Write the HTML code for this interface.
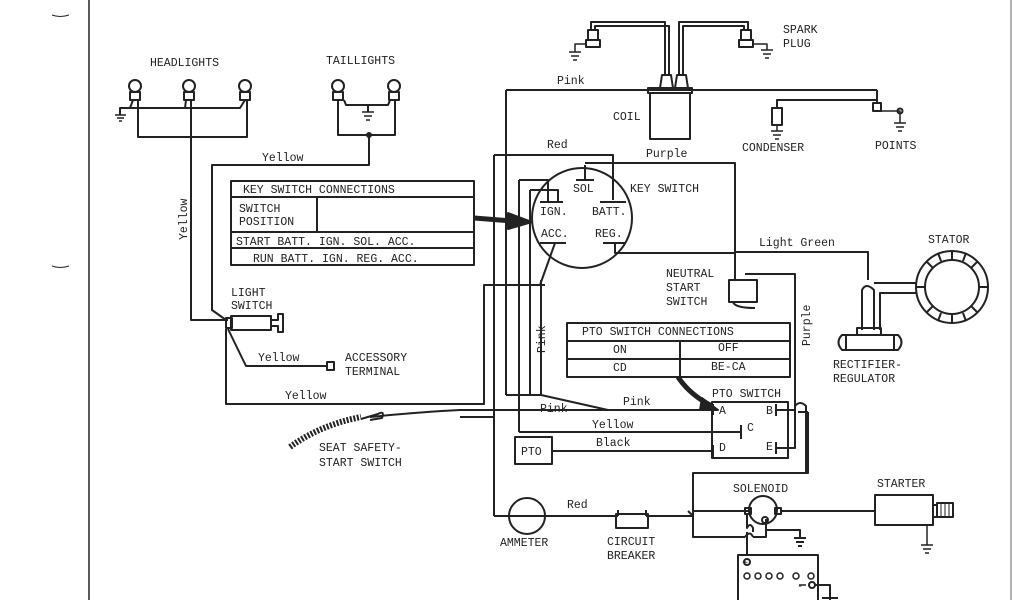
<!DOCTYPE html>
<html><head><meta charset="utf-8"><style>
html,body{margin:0;padding:0;background:#fff;}
svg{display:block;}
text{font-family:"Liberation Mono",monospace;font-size:11.5px;fill:#222;}
</style></head><body>
<svg width="1024" height="600" viewBox="0 0 1024 600" xmlns="http://www.w3.org/2000/svg">
<g fill="none" stroke="#222" stroke-width="2" stroke-linejoin="round">
<line x1="89" y1="0" x2="89" y2="600" stroke-width="1.5"/>
<line x1="1011" y1="0" x2="1011" y2="600" stroke="#999" stroke-width="1.5"/>
<path d="M52 15 q8 3 17 0 M52 266 q8 3 17 0" stroke-width="1"/>

<!-- Headlights -->
<circle cx="135" cy="86" r="6"/><rect x="130" y="92" width="10" height="8"/>
<circle cx="189" cy="86" r="6"/><rect x="184" y="92" width="10" height="8"/>
<circle cx="245" cy="86" r="6"/><rect x="240" y="92" width="10" height="8"/>
<path d="M120 115 V108 H240 L245 100 M133 100 L130 108 M186 100 L185 108"/>
<path d="M115 115 H126 M117 118 H124 M119 121 H122" stroke-width="1.5"/>
<path d="M138 100 V137 H247 V100"/>
<path d="M191 100 V320 H228"/>

<!-- Taillights -->
<circle cx="338" cy="86" r="6"/><rect x="333" y="92" width="10" height="8"/>
<circle cx="394" cy="86" r="6"/><rect x="389" y="92" width="10" height="8"/>
<path d="M344 100 L346 105 H388 L390 100 M368 105 V112"/>
<path d="M362 112 H374 M364 116 H372 M366 120 H370" stroke-width="1.5"/>
<path d="M338 100 V135 H395 V100 M369 135 V165 H212 V310 L226 320"/>
<circle cx="369" cy="135" r="2" fill="#222"/>

<!-- Light switch -->
<rect x="231" y="316" width="40" height="14"/>
<rect x="226" y="318" width="6" height="10"/>
<path d="M271 320 H278 V314 H283 V332 H278 V326 H271"/>
<path d="M228 329 L246 366 H327 M226 329 V404 H484 V285 H496"/>
<rect x="327" y="362" width="7" height="8"/>

<!-- Key switch table -->
<rect x="231" y="181" width="243" height="84"/>
<path d="M231 197 H474 M231 232 H474 M231 248 H474 M317 197 V232"/>
<path d="M474 218 L512 221" stroke-width="5"/>
<path d="M508 213 L532 222 L508 229 Z" fill="#222"/>

<!-- bundle -->
<path d="M494 155 V516"/>
<path d="M494 155 H613 V200"/>
<path d="M506 90 V395"/>
<path d="M506 90 H877"/>
<path d="M519 180 H548 V202 M530 190 H558 V202"/>
<path d="M519 180 V432 M530 190 V395 M541 280 V395"/>
<path d="M555 243 L540 285"/>
<path d="M484 285 H545"/>
<path d="M506 395 H541 L608 410 H713"/>
<path d="M370 417 Q420 412 460 410 H713 M460 417 H494"/>
<path d="M519 432 H741"/>
<path d="M552 451 H713"/>

<!-- key switch circle -->
<circle cx="582" cy="218" r="50"/>
<path d="M585 163 H735 V252 M585 165 V180 M576 180 H594"/>
<path d="M540 202 H563 M600 202 H626 M540 243 H566 M603 243 H626 M615 243 V253 H735"/>
<path d="M735 252 H868 V280 M735 252 V280"/>

<!-- Coil -->
<rect x="650" y="93" width="40" height="46"/>
<rect x="648" y="88" width="44" height="5"/>
<path d="M660 88 L662 75 H671 L673 88 M675 88 L677 75 H686 L688 88"/>
<path d="M665 75 V22 H591 V30 M669 75 V26 H595 V30"/>
<path d="M679 75 V22 H748 V30 M683 75 V26 H744 V30"/>
<rect x="588" y="30" width="10" height="10"/><rect x="586" y="40" width="14" height="7"/>
<rect x="741" y="30" width="10" height="10"/><rect x="739" y="40" width="14" height="7"/>
<path d="M586 44 H575 V52 M569 52 H581 M571 56 H579 M573 60 H577" stroke-width="1.5"/>
<path d="M753 44 H767 V50 M761 50 H773 M763 54 H771 M765 58 H769" stroke-width="1.5"/>

<!-- condenser & points -->
<path d="M777 108 V100 H877 M877 90 V102"/>
<rect x="772" y="108" width="10" height="17"/>
<path d="M777 125 V131 M771 131 H783 M773 135 H781 M775 139 H779" stroke-width="1.5"/>
<rect x="873" y="103" width="8" height="8"/>
<path d="M881 111 H900 V123 M894 123 H906 M896 127 H904 M898 131 H902" stroke-width="1.5"/>
<circle cx="900" cy="111" r="2.5"/>

<!-- Neutral start switch -->
<rect x="729" y="280" width="28" height="22"/>
<path d="M733 302 Q735 308 755 308 M745 274 H795 V406 Q800 400 806 406 V472"/>
<path d="M795 406 V448 H784 M795 410 H784"/>

<!-- Stator -->
<circle cx="952" cy="287" r="36"/>
<circle cx="952" cy="287" r="27"/>
<path d="M952 251 V260 M952 314 V323 M916 287 H925 M979 287 H988 M927 262 L933 268 M977 262 L971 268 M927 312 L933 306 M977 312 L971 306 M938 253 L941 261 M966 253 L963 261 M938 321 L941 313 M966 321 L963 313"/>
<path d="M862 330 V290 Q866 282 874 290 V330 M874 283 H916 M880 330 V293 H916"/>
<rect x="857" y="328" width="24" height="7"/>
<path d="M842 335 H898 Q905 342 898 350 H842 Q835 342 842 335 Z M846 335 V350 M894 335 V350"/>

<!-- PTO table -->
<rect x="567" y="323" width="223" height="54"/>
<path d="M567 341 H790 M567 359 H790 M680 341 V377"/>
<path d="M678 377 Q690 395 712 406" stroke-width="5"/>
<path d="M702 398 L718 410 L700 410 Z" fill="#222"/>

<!-- PTO switch -->
<rect x="712" y="402" width="76" height="56"/>
<path d="M713 404 V415 M741 425 V439 M713 445 V457 M776 404 V416 M776 442 V454 M776 410 H784 M776 448 H784"/>
<path d="M808 412 V473 H693 V537 H745 M693 511 H749 M808 412 H798"/>

<rect x="515" y="437" width="37" height="27"/>

<!-- Ammeter etc -->
<circle cx="527" cy="516" r="18"/>
<path d="M494 516 H618 M646 516 H693 L688 511"/>
<path d="M618 516 V510 M646 516 V510"/>
<rect x="616" y="514" width="32" height="14"/>

<!-- Solenoid -->
<circle cx="763" cy="510" r="14"/>
<rect x="745" y="508" width="6" height="6"/>
<rect x="775" y="508" width="6" height="6"/>
<path d="M781 511 H875 M766 519 V530 H800 V538 M794 538 H806 M796 542 H804 M798 546 H802"/>
<circle cx="765" cy="520" r="3"/>
<path d="M747 514 V528 Q750 522 753 528 V532 M747 532 V555"/>
<path d="M745 537 Q750 530 753 537 M753 537 H766 V530"/>

<!-- Starter -->
<rect x="875" y="495" width="58" height="30"/>
<path d="M933 505 H937 V517 H933"/>
<rect x="937" y="503" width="16" height="14"/>
<path d="M941 503 V517 M945 503 V517 M949 503 V517" stroke-width="1"/>
<path d="M927 525 V545 M921 545 H933 M923 549 H931 M925 553 H929" stroke-width="1.5"/>

<!-- Battery -->
<path d="M738 600 V555 H818 V600"/>
<circle cx="747" cy="562" r="3"/>
<g stroke-width="1.5">
<circle cx="747" cy="576" r="3"/><circle cx="758" cy="576" r="3"/><circle cx="769" cy="576" r="3"/><circle cx="780" cy="576" r="3"/><circle cx="796" cy="576" r="3"/><circle cx="811" cy="576" r="3"/>
</g>
<circle cx="812" cy="585" r="3"/>
<path d="M815 585 H830 V600 M822 598 H838"/>
<path d="M799 585 H806" stroke-width="1.5"/>

<!-- seat safety switch -->
<path d="M290 447 Q320 425 361 417" stroke-width="6" stroke-dasharray="2 1.5"/>
<path d="M361 419 L378 414 Q385 410 382 418 L370 420"/>
</g>

<text x="150" y="66">HEADLIGHTS</text>
<text x="326" y="64">TAILLIGHTS</text>
<text x="262" y="161">Yellow</text>
<text transform="translate(187,240) rotate(-90)">Yellow</text>
<text x="243" y="193">KEY SWITCH CONNECTIONS</text>
<text x="239" y="212">SWITCH</text>
<text x="239" y="225">POSITION</text>
<text x="236" y="245">START BATT. IGN.  SOL.  ACC.</text>
<text x="253" y="262">RUN BATT. IGN.  REG.  ACC.</text>
<text x="231" y="296">LIGHT</text>
<text x="231" y="309">SWITCH</text>
<text x="258" y="361">Yellow</text>
<text x="345" y="361">ACCESSORY</text>
<text x="345" y="375">TERMINAL</text>
<text x="285" y="399">Yellow</text>
<text x="319" y="451">SEAT SAFETY-</text>
<text x="319" y="466">START SWITCH</text>
<text x="557" y="84">Pink</text>
<text x="783" y="33">SPARK</text>
<text x="783" y="47">PLUG</text>
<text x="613" y="120">COIL</text>
<text x="547" y="148">Red</text>
<text x="646" y="157">Purple</text>
<text x="742" y="151">CONDENSER</text>
<text x="875" y="149">POINTS</text>
<text x="573" y="192">SOL</text>
<text x="630" y="192">KEY SWITCH</text>
<text x="540" y="215">IGN.</text>
<text x="592" y="215">BATT.</text>
<text x="541" y="237">ACC.</text>
<text x="595" y="237">REG.</text>
<text x="759" y="246">Light Green</text>
<text x="928" y="243">STATOR</text>
<text x="666" y="277">NEUTRAL</text>
<text x="666" y="291">START</text>
<text x="666" y="305">SWITCH</text>
<text transform="translate(810,346) rotate(-90)">Purple</text>
<text transform="translate(545,353) rotate(-90)">Pink</text>
<text x="833" y="368">RECTIFIER-</text>
<text x="833" y="382">REGULATOR</text>
<text x="582" y="335">PTO SWITCH CONNECTIONS</text>
<text x="613" y="353">ON</text>
<text x="718" y="351">OFF</text>
<text x="613" y="371">CD</text>
<text x="711" y="370">BE-CA</text>
<text x="712" y="397">PTO SWITCH</text>
<text x="540" y="412">Pink</text>
<text x="623" y="405">Pink</text>
<text x="719" y="414">A</text>
<text x="747" y="431">C</text>
<text x="719" y="451">D</text>
<text x="766" y="414">B</text>
<text x="766" y="450">E</text>
<text x="592" y="428">Yellow</text>
<text x="596" y="446">Black</text>
<text x="521" y="455">PTO</text>
<text x="567" y="508">Red</text>
<text x="500" y="546">AMMETER</text>
<text x="607" y="545">CIRCUIT</text>
<text x="607" y="559">BREAKER</text>
<text x="733" y="492">SOLENOID</text>
<text x="877" y="487">STARTER</text>
<text x="742" y="566" style="font-size:10px">+</text>
<text x="797" y="589" style="font-size:10px">-</text>
<text x="752" y="608">BATTERY</text>
</svg>
</body></html>
